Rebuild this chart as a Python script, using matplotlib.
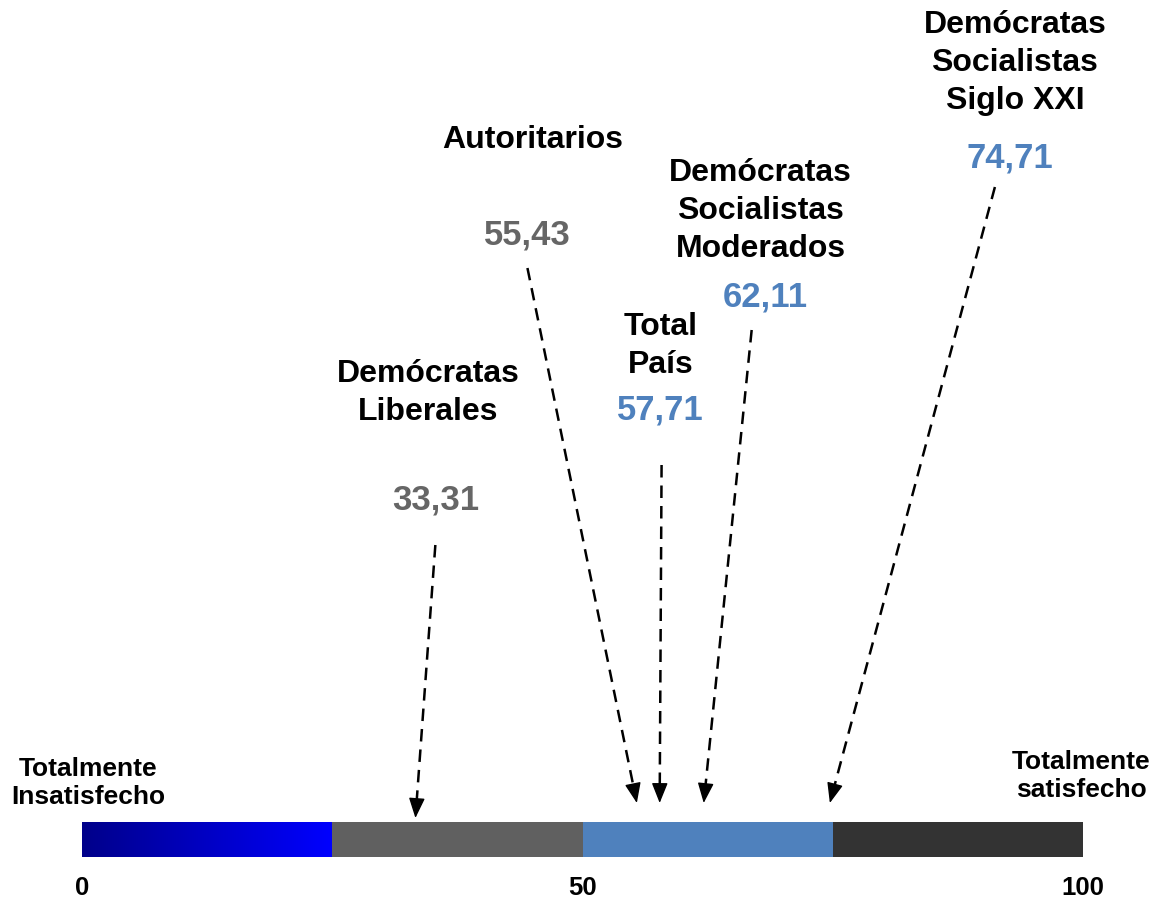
import numpy as np
import matplotlib
matplotlib.use('Agg')
import matplotlib.pyplot as plt
from matplotlib.colors import LinearSegmentedColormap

plt.rcParams['font.family'] = ['Liberation Sans', 'DejaVu Sans']
plt.rcParams['font.weight'] = 'bold'

# data
groups = ['Demócratas\nLiberales', 'Autoritarios', 'Total\nPaís',
          'Demócratas\nSocialistas\nModerados', 'Demócratas\nSocialistas\nSiglo XXI']
values = [33.31, 55.43, 57.71, 62.11, 74.71]
value_colors = ['#666666', '#666666', '#4F81BD', '#4F81BD', '#4F81BD']

seg_starts = [0, 25, 50, 75]
seg_width = 25
seg_colors = [None, '#606060', '#4F81BD', '#333333']  # first one is a gradient

tick_vals = [0, 50, 100]
end_labels = ['Totalmente\nInsatisfecho', 'Totalmente\nsatisfecho']

# layout (x in scale units, y in pixel rows from top)
label_pos = [(34.6, 393), (45.05, 140), (57.8, 346), (67.8, 211), (93.2, 63)]
number_pos = [(35.3, 500), (44.5, 235), (57.8, 410), (68.3, 297), (92.7, 158)]
tail_pos = [(35.3, 545), (44.5, 268), (57.9, 465), (66.9, 330), (91.2, 187)]
tip_y = [818, 803, 803, 803, 803]

W, H = 1155, 901
px0, ppu = 82, 10.01  # pixel of 0 and pixels per unit

fig = plt.figure(figsize=(W / 100, H / 100), dpi=100)
ax = fig.add_axes([0, 0, 1, 1])
ax.set_xlim(-px0 / ppu, (W - px0) / ppu)
ax.set_ylim(H, 0)
ax.axis('off')

bar_top, bar_bot = 822, 857

# gradient segment
cmap = LinearSegmentedColormap.from_list('g', ['#00008A', '#0000FF'])
grad = np.linspace(0, 1, 256).reshape(1, -1)
ax.imshow(grad, cmap=cmap, aspect='auto',
          extent=[seg_starts[0], seg_starts[0] + seg_width, bar_bot, bar_top], zorder=1)
for s, c in zip(seg_starts[1:], seg_colors[1:]):
    ax.barh((bar_top + bar_bot) / 2, seg_width, left=s, height=bar_bot - bar_top,
            color=c, zorder=1)

for t in tick_vals:
    ax.text(t, 888, str(t), ha='center', va='center', fontsize=18.5, color='black')

ax.text(0.6, 783, end_labels[0], ha='center', va='center', fontsize=19,
        linespacing=1.25)
ax.text(99.8, 776, end_labels[1], ha='center', va='center', fontsize=19,
        linespacing=1.25)

head_len = 17  # px
for g, v, vc, lp, npos, tp, ty in zip(groups, values, value_colors,
                                      label_pos, number_pos, tail_pos, tip_y):
    ax.text(lp[0], lp[1], g, ha='center', va='center', fontsize=23, color='black',
            linespacing=1.33)
    ax.text(npos[0], npos[1], f'{v:.2f}'.replace('.', ','), ha='center', va='center',
            fontsize=25, color=vc)
    # dashed shaft up to the base of the head, then a solid head
    dxp, dyp = (v - tp[0]) * ppu, ty - tp[1]
    L = np.hypot(dxp, dyp)
    bx = v - dxp / L * head_len / ppu
    by = ty - dyp / L * head_len
    ax.plot([tp[0], bx], [tp[1], by], color='black', lw=1.8,
            linestyle=(0, (5, 3.2)), solid_capstyle='butt')
    ax.annotate('', xy=(v, ty), xytext=(bx, by),
                arrowprops=dict(arrowstyle='-|>,head_length=1.25,head_width=0.5',
                                color='black', lw=1.0, shrinkA=0, shrinkB=0))

fig.savefig('out.png', dpi=100, facecolor='white')
